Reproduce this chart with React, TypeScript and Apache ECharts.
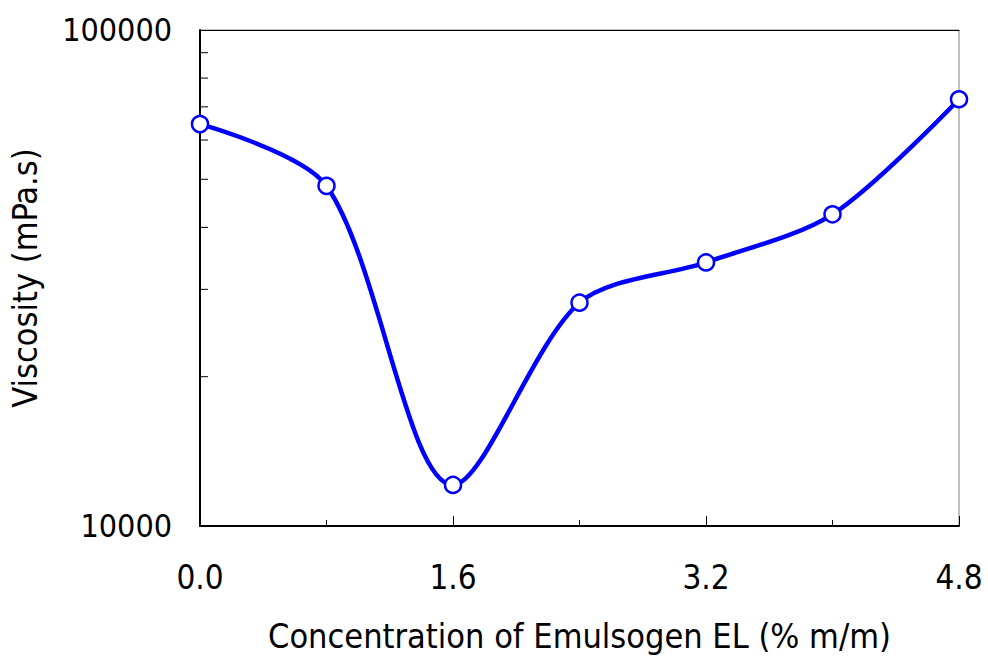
import React, { useEffect, useRef } from "react";
import * as echarts from "echarts";

const concentration = [0, 0.8, 1.6, 2.4, 3.2, 4.0, 4.8];
const viscosity = [64600, 48500, 12100, 28200, 34000, 42500, 72500];
const minorTickValues = [20000, 30000, 40000, 50000, 60000, 70000, 80000, 90000];
const xTitle = "Concentration of Emulsogen EL (% m/m)";
const yTitle = "Viscosity (mPa.s)";

const FONT = "'DejaVu Sans Condensed', 'DejaVu Sans', sans-serif";

export default function App() {
  const ref = useRef<HTMLDivElement>(null);
  useEffect(() => {
    const chart = echarts.init(ref.current!, null, { renderer: "svg" });
    chart.setOption({
      animation: false,
      backgroundColor: "#ffffff",
      grid: {
        left: 194,
        top: 30,
        right: 29,
        bottom: 127,
        show: true,
        borderColor: "#808080",
        borderWidth: 1,
      },
      xAxis: [
        {
          type: "value",
          min: 0,
          max: 4.8,
          interval: 1.6,
          name: xTitle,
          nameLocation: "middle",
          nameGap: 93,
          nameTextStyle: { fontFamily: FONT, fontSize: 34, color: "#000" },
          axisLine: { show: true, onZero: false, lineStyle: { color: "#000", width: 2 } },
          axisTick: { show: true, inside: true, length: 10, lineStyle: { color: "#000", width: 1 } },
          minorTick: { show: true, splitNumber: 2, length: 6, lineStyle: { color: "#000", width: 1 } },
          splitLine: { show: false },
          axisLabel: {
            margin: 35,
            fontFamily: FONT,
            fontSize: 33,
            color: "#000",
            formatter: (v: number) => v.toFixed(1),
          },
        },
        {
          type: "value",
          position: "top",
          min: 0,
          max: 4.8,
          axisLine: { show: true, onZero: false, lineStyle: { color: "#000", width: 1 } },
          axisTick: { show: false },
          axisLabel: { show: false },
          splitLine: { show: false },
        },
      ],
      yAxis: {
        type: "log",
        logBase: 10,
        min: 10000,
        max: 100000,
        name: yTitle,
        nameLocation: "middle",
        nameGap: 158,
        nameTextStyle: { fontFamily: FONT, fontSize: 34, color: "#000" },
        axisLine: { show: true, onZero: false, lineStyle: { color: "#000", width: 2 } },
        axisTick: { show: true, inside: true, length: 8, lineStyle: { color: "#000", width: 1 } },
        splitLine: { show: false },
        axisLabel: {
          margin: 28,
          fontFamily: FONT,
          fontSize: 32,
          color: "#000",
          formatter: (v: number) => String(Math.round(v)),
        },
      },
      series: [
        {
          type: "line",
          data: concentration.map((c, i) => [c, viscosity[i]]),
          smooth: 0.3,
          symbol: "circle",
          symbolSize: 16,
          lineStyle: { color: "#0000ff", width: 4.5 },
          itemStyle: { color: "#ffffff", borderColor: "#0000ff", borderWidth: 2.5 },
          z: 3,
        },
        {
          type: "custom",
          data: minorTickValues.map((v) => [0, v]),
          renderItem: (params: any, api: any) => {
            const p = api.coord([api.value(0), api.value(1)]);
            return {
              type: "line",
              shape: { x1: p[0], y1: p[1], x2: p[0] + 8, y2: p[1] },
              style: { stroke: "#000", lineWidth: 1 },
            };
          },
          z: 2,
          silent: true,
        },
      ],
    });
    return () => chart.dispose();
  }, []);
  return (
    <div
      ref={ref}
      style={{ position: "fixed", left: 0, top: 0, width: 988, height: 658 }}
    />
  );
}
